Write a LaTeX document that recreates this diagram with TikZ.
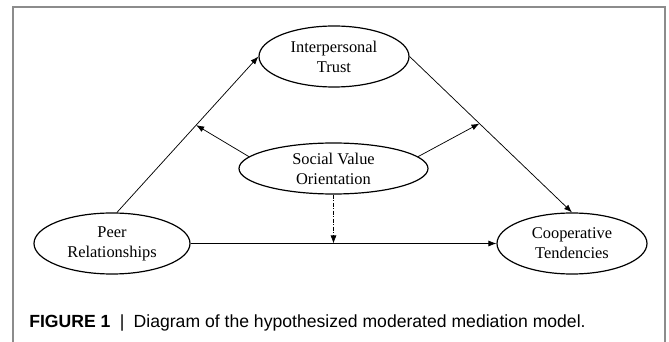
\documentclass[tikz,border=0pt]{standalone}
\usepackage{fontspec}
\setmainfont{Liberation Serif}
\newfontfamily\capfont{Liberation Sans}
\usetikzlibrary{shapes.geometric,arrows.meta,calc}
\tikzset{
  var/.style={draw, line width=0.9pt, ellipse, inner sep=0pt, align=center,
    font=\fontsize{12.3}{15}\selectfont},
  conn/.style={line width=0.55pt, -{Latex[length=6pt,width=4.5pt]}},
  modconn/.style={conn, dash pattern=on 3pt off 1.2pt on 0.6pt off 1.2pt},
  frame/.style={draw=black!45, line width=0.9pt}
}
\begin{document}
\begin{tikzpicture}[x=0.75pt,y=-0.75pt]
\useasboundingbox (0,0) rectangle (669,342);
\draw[frame] (13,342) -- (13,7) -- (665,7) -- (665,342);

\node[var, minimum width=150*0.75pt, minimum height=61*0.75pt] (trust) at (334,56.5) {Interpersonal\\Trust};
\node[var, minimum width=189*0.75pt, minimum height=51*0.75pt] (svo) at (333.5,168.5) {Social Value\\Orientation};
\node[var, minimum width=156*0.75pt, minimum height=61*0.75pt] (peer) at (112,243.5) {Peer\\Relationships};
\node[var, minimum width=150*0.75pt, minimum height=61*0.75pt] (coop) at (572,243.5) {Cooperative\\Tendencies};

\draw[conn] (peer.81) -- (trust.west);
\draw[conn] (trust.east) -- (coop.north);
\draw[conn] (peer.east) -- (coop.west);

\coordinate (ma) at ($(peer.81)!0.56!(trust.west)$);
\coordinate (mb) at ($(trust.east)!0.43!(coop.north)$);
\coordinate (mc) at ($(peer.east)!(svo.south)!(coop.west)$);
\draw[conn] (svo.172) -- (ma);
\draw[conn] (svo.8) -- (mb);
\draw[modconn] (svo.south) -- (mc);

\node[anchor=base west, inner sep=0pt, font=\capfont\fontsize{13.2}{15}\selectfont] (cap) at (29,328)
  {{\bfseries FIGURE 1}\hspace{7pt}|\hspace{7pt}Diagram of the hypothesized moderated mediation model.};
\end{tikzpicture}
\end{document}
